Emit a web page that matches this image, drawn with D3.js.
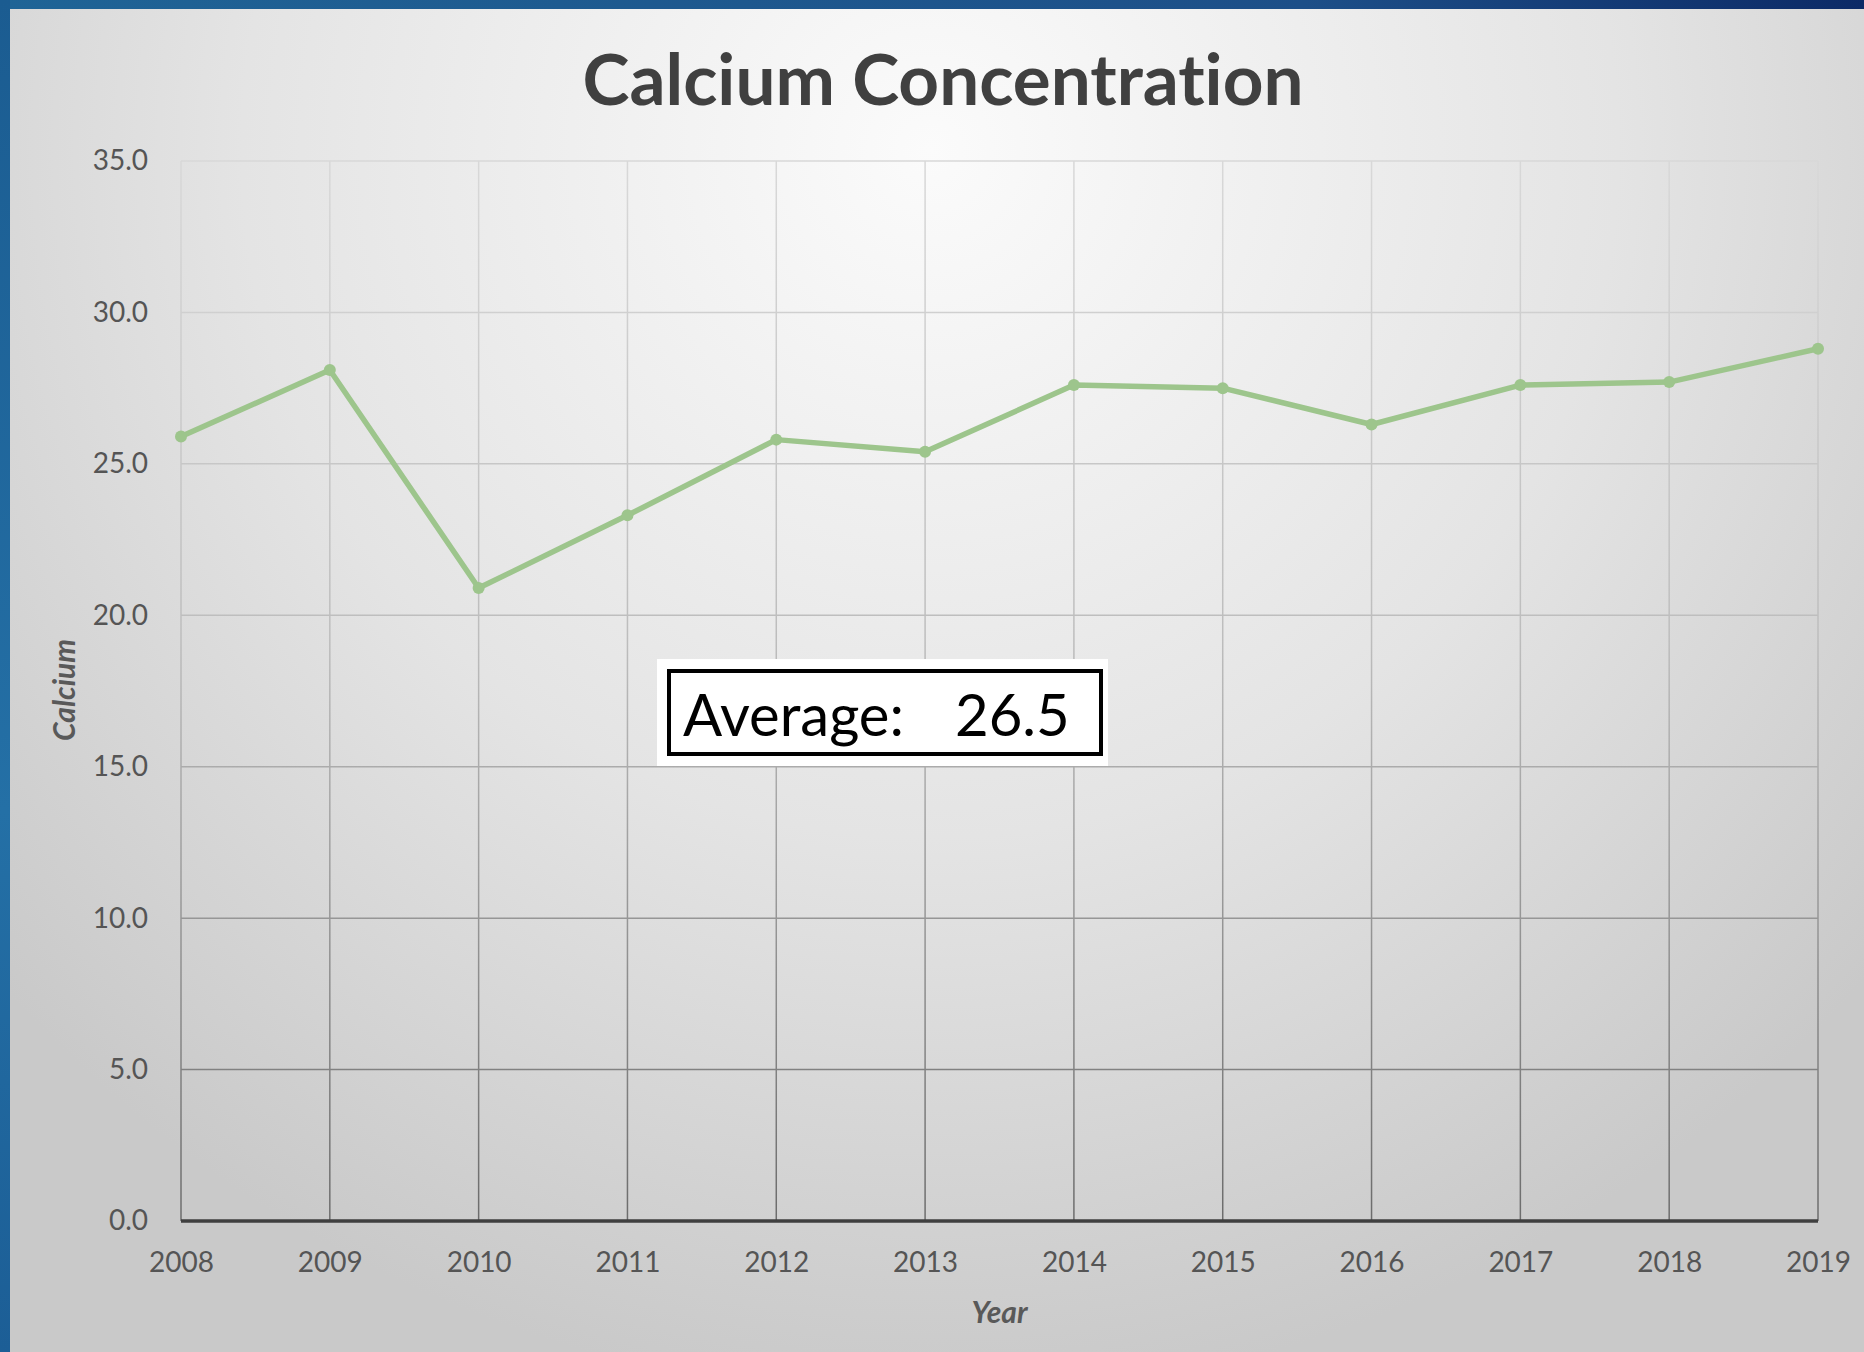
<!DOCTYPE html>
<html>
<head>
<meta charset="utf-8">
<script src="https://cdn.jsdelivr.net/npm/d3@7"></script>
<style>
  html, body { margin: 0; padding: 0; background: #1f5f92; }
  svg { display: block; }
  text { font-variant-ligatures: none; }
</style>
</head>
<body>
<svg id="chart" width="1864" height="1352"></svg>
<script>
// chart values
const years = [2008, 2009, 2010, 2011, 2012, 2013, 2014, 2015, 2016, 2017, 2018, 2019];
const calcium = [25.9, 28.1, 20.9, 23.3, 25.8, 25.4, 27.6, 27.5, 26.3, 27.6, 27.7, 28.8];
const yTicks = [0, 5, 10, 15, 20, 25, 30, 35];
const averageLabel = "Average:";
const averageValue = "26.5";
const chartTitle = "Calcium Concentration";
const xTitle = "Year";
const yTitle = "Calcium";

const W = 1864, H = 1352;
const margin = {left: 181, right: W - 1818, top: 161, bottom: H - 1221};
const fontFamily = "Lato, 'Open Sans', sans-serif";

const svg = d3.select("#chart");
const defs = svg.append("defs");

// blue frame + grey panel
let frame = defs.append("linearGradient").attr("id", "frame")
  .attr("x1", "0%").attr("y1", "0%").attr("x2", "100%").attr("y2", "0%");
frame.append("stop").attr("offset", "0%").attr("stop-color", "#1f6496");
frame.append("stop").attr("offset", "70%").attr("stop-color", "#1d4f88");
frame.append("stop").attr("offset", "100%").attr("stop-color", "#0c2a66");

let leftFrame = defs.append("linearGradient").attr("id", "leftFrame")
  .attr("x1", "0%").attr("y1", "0%").attr("x2", "0%").attr("y2", "100%");
leftFrame.append("stop").attr("offset", "0%").attr("stop-color", "#1b5c91");
leftFrame.append("stop").attr("offset", "60%").attr("stop-color", "#2470a6");
leftFrame.append("stop").attr("offset", "100%").attr("stop-color", "#1c5e96");

let panel = defs.append("radialGradient").attr("id", "panel")
  .attr("gradientUnits", "userSpaceOnUse")
  .attr("cx", 930).attr("cy", 150).attr("r", 1250)
  .attr("fx", 930).attr("fy", 150);
panel.append("stop").attr("offset", "0%").attr("stop-color", "#fbfbfb");
panel.append("stop").attr("offset", "55%").attr("stop-color", "#e4e4e4");
panel.append("stop").attr("offset", "100%").attr("stop-color", "#c9c9c9");

let grid = defs.append("linearGradient").attr("id", "grid")
  .attr("gradientUnits", "userSpaceOnUse")
  .attr("x1", 0).attr("y1", margin.top).attr("x2", 0).attr("y2", H - margin.bottom);
grid.append("stop").attr("offset", "0%").attr("stop-color", "#d8d8d8");
grid.append("stop").attr("offset", "45%").attr("stop-color", "#bdbdbd");
grid.append("stop").attr("offset", "100%").attr("stop-color", "#6c6c6c");

svg.append("rect").attr("width", W).attr("height", H).attr("fill", "url(#frame)");
svg.append("rect").attr("y", 0).attr("width", 10).attr("height", H).attr("fill", "url(#leftFrame)");
svg.append("rect").attr("x", 10).attr("y", 9).attr("width", W - 10).attr("height", H - 9)
  .attr("fill", "url(#panel)");

// scales
const x = d3.scaleLinear()
  .domain(d3.extent(years))
  .range([margin.left, W - margin.right]);
const y = d3.scaleLinear()
  .domain([0, 35])
  .range([H - margin.bottom, margin.top]);

// gridlines
const gridG = svg.append("g");
gridG.selectAll(".hgrid")
  .data(yTicks.filter(d => d > 0))
  .enter()
  .append("line")
  .attr("x1", margin.left).attr("x2", W - margin.right)
  .attr("y1", d => y(d)).attr("y2", d => y(d))
  .attr("stroke", "url(#grid)")
  .attr("stroke-width", 1.5);
gridG.selectAll(".vgrid")
  .data(years)
  .enter()
  .append("line")
  .attr("x1", d => x(d)).attr("x2", d => x(d))
  .attr("y1", margin.top).attr("y2", H - margin.bottom)
  .attr("stroke", "url(#grid)")
  .attr("stroke-width", 1.5);

// axes
const yAxis = d3.axisLeft(y)
  .tickValues(yTicks)
  .tickFormat(d3.format(".1f"))
  .tickSize(0)
  .tickPadding(33);
svg.append("g")
   .attr("transform", `translate(${margin.left},0)`)
   .call(yAxis)
   .call(g => g.select(".domain").remove())
   .selectAll("text")
   .attr("fill", "#555")
   .style("font-family", fontFamily)
   .style("font-size", "28px");

const xAxis = d3.axisBottom(x)
  .tickValues(years)
  .tickFormat(d3.format("d"))
  .tickSize(0)
  .tickPadding(31);
svg.append("g")
   .attr("transform", `translate(0,${H - margin.bottom})`)
   .call(xAxis)
   .call(g => g.select(".domain").remove())
   .selectAll("text")
   .attr("fill", "#555")
   .style("font-family", fontFamily)
   .style("font-size", "28px");

svg.append("line")
   .attr("x1", margin.left).attr("x2", W - margin.right)
   .attr("y1", y(0)).attr("y2", y(0))
   .attr("stroke", "#3f3f3f")
   .attr("stroke-width", 3.5);

// series
const points = years.map((yr, i) => ({year: yr, value: calcium[i]}));
const lineGen = d3.line().x(d => x(d.year)).y(d => y(d.value));

svg.append("path")
   .datum(points)
   .attr("fill", "none")
   .attr("stroke", "#9dc58c")
   .attr("stroke-width", 5.5)
   .attr("stroke-linejoin", "round")
   .attr("d", lineGen);

svg.append("g")
   .selectAll("circle")
   .data(points)
   .enter()
   .append("circle")
   .attr("cx", d => x(d.year))
   .attr("cy", d => y(d.value))
   .attr("r", 6)
   .attr("fill", "#9dc58c");

// titles
svg.append("text")
   .attr("x", 943).attr("y", 105)
   .attr("text-anchor", "middle")
   .attr("fill", "#404040")
   .style("font-family", fontFamily)
   .style("font-weight", "bold")
   .style("font-size", "71px")
   .text(chartTitle);

svg.append("text")
   .attr("x", (margin.left + W - margin.right) / 2)
   .attr("y", 1323)
   .attr("text-anchor", "middle")
   .attr("fill", "#595959")
   .style("font-family", fontFamily)
   .style("font-weight", "bold")
   .style("font-style", "italic")
   .style("font-size", "30px")
   .text(xTitle);

svg.append("text")
   .attr("transform", "translate(75,690) rotate(-90)")
   .attr("text-anchor", "middle")
   .attr("fill", "#595959")
   .style("font-family", fontFamily)
   .style("font-weight", "bold")
   .style("font-style", "italic")
   .style("font-size", "30px")
   .text(yTitle);

// average annotation
const avg = svg.append("g");
avg.append("rect")
   .attr("x", 657).attr("y", 659)
   .attr("width", 451).attr("height", 107)
   .attr("fill", "#ffffff");
avg.append("rect")
   .attr("x", 669).attr("y", 671)
   .attr("width", 432).attr("height", 83)
   .attr("fill", "none")
   .attr("stroke", "#000")
   .attr("stroke-width", 4);
const avgText = avg.append("text")
   .attr("y", 736)
   .attr("fill", "#000")
   .style("font-family", fontFamily)
   .style("font-size", "58px");
avgText.append("tspan").attr("x", 683).text(averageLabel);
avgText.append("tspan").attr("x", 955).text(averageValue);
</script>
</body>
</html>
